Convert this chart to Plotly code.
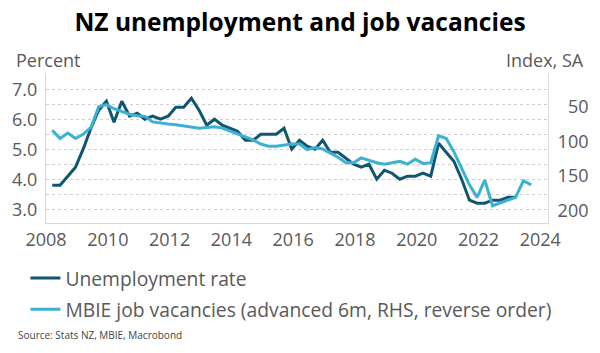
import plotly.graph_objects as go
import pandas as pd

# Quarterly observations, 2008Q1 onward (plotted at mid-quarter)
unemployment_rate = [
    3.8, 3.8, 4.1, 4.4, 5.0, 5.7, 6.3, 6.6, 5.9, 6.6,
    6.1, 6.2, 6.0, 6.1, 6.0, 6.1, 6.4, 6.4, 6.7, 6.3,
    5.8, 6.0, 5.8, 5.7, 5.6, 5.3, 5.3, 5.5, 5.5, 5.5,
    5.7, 5.0, 5.3, 5.1, 5.0, 5.3, 4.9, 4.9, 4.7, 4.5,
    4.4, 4.5, 4.0, 4.3, 4.2, 4.0, 4.1, 4.1, 4.2, 4.1,
    5.2, 4.9, 4.6, 4.0, 3.3, 3.2, 3.2, 3.3, 3.3, 3.4,
    3.4,
]
job_vacancies = [
    84, 96, 88, 96, 90, 80, 50, 47, 53, 57,
    61, 63, 64, 72, 74, 75, 76, 78, 79, 81,
    80, 79, 81, 85, 89, 93, 98, 104, 107, 107,
    105, 104, 104, 112, 109, 111, 117, 123, 131, 131,
    124, 128, 131, 133, 131, 129, 133, 126, 132, 131,
    92, 96, 115, 139, 163, 181, 156, 193, 189, 186,
    181, 157, 163,
]
dates_u = pd.date_range("2008-02-15", periods=len(unemployment_rate), freq="3MS") + pd.Timedelta(days=14)
dates_v = pd.date_range("2008-02-15", periods=len(job_vacancies), freq="3MS") + pd.Timedelta(days=14)

left_ticks = [3.0, 3.5, 4.0, 4.5, 5.0, 5.5, 6.0, 6.5, 7.0]
left_text = ["3.0", "", "4.0", "", "5.0", "", "6.0", "", "7.0"]
right_ticks = [50, 100, 150, 200]
right_text = ["\u200750", "100", "150", "200"]

DARK = "#115670"
LIGHT = "#3cb1d2"
GREY = "#595959"
FONT = "Open Sans"

fig = go.Figure()
fig.add_trace(go.Scatter(
    x=dates_u, y=unemployment_rate, mode="lines", name="Unemployment rate",
    line=dict(color=DARK, width=3), legendgroup="a", yaxis="y"))
fig.add_trace(go.Scatter(
    x=dates_v, y=job_vacancies, mode="lines",
    name="MBIE job vacancies (advanced 6m, RHS, reverse order)",
    line=dict(color=LIGHT, width=3), legendgroup="b", yaxis="y2"))

fig.update_layout(
    width=600, height=353,
    margin=dict(l=41, r=47, t=73, b=130),
    paper_bgcolor="white", plot_bgcolor="white",
    font=dict(family=FONT, color=GREY, size=18),
    title=dict(text="<b>NZ unemployment and job vacancies</b>",
               x=0.5, xanchor="center", y=1 - 22 / 353, yanchor="middle",
               font=dict(family=FONT, size=24.5, color="black")),
    xaxis=dict(type="date", range=["2008-01-01", "2024-04-01"],
               tick0="2008-01-01", dtick="M24", tickformat="%Y",
               showgrid=False, showline=True, linecolor="#d9d9d9", linewidth=1,
               ticks="", tickfont=dict(size=18, color=GREY), zeroline=False),
    yaxis=dict(range=[2.54, 7.54], tickvals=left_ticks, ticktext=left_text,
               showgrid=True, gridcolor="#cfcfcf", griddash="dot", gridwidth=1,
               showline=True, linecolor="#d9d9d9", linewidth=1, ticks="",
               ticklabelstandoff=4, zeroline=False,
               tickfont=dict(size=18, color=GREY)),
    yaxis2=dict(range=[218, 1.4], overlaying="y", side="right",
                tickvals=right_ticks, ticktext=right_text,
                showgrid=False, showline=True, linecolor="#d9d9d9", linewidth=1,
                ticks="", ticklabelstandoff=5, zeroline=False,
                tickfont=dict(size=18, color=GREY)),
    showlegend=True,
    legend=dict(x=(20 - 41) / 512, y=(223 - 259) / 150, xanchor="left", yanchor="top",
                orientation="v", traceorder="grouped", tracegroupgap=3,
                font=dict(size=19.3, color=GREY), itemwidth=30,
                bgcolor="rgba(0,0,0,0)"),
    annotations=[
        dict(text="Percent", xref="paper", yref="paper", x=(8 - 41) / 512, y=(223 - 60) / 150,
             xanchor="left", yanchor="middle", showarrow=False,
             font=dict(size=18, color=GREY)),
        dict(text="Index, SA", xref="paper", yref="paper", x=(592 - 41) / 512, y=(223 - 60) / 150,
             xanchor="right", yanchor="middle", showarrow=False,
             font=dict(size=18, color=GREY)),
        dict(text="Source: Stats NZ, MBIE, Macrobond", xref="paper", yref="paper",
             x=(10 - 41) / 512, y=(223 - 335) / 150, xanchor="left", yanchor="middle",
             showarrow=False, font=dict(size=10, color="#444444")),
    ],
)

fig.write_html("out.html")
